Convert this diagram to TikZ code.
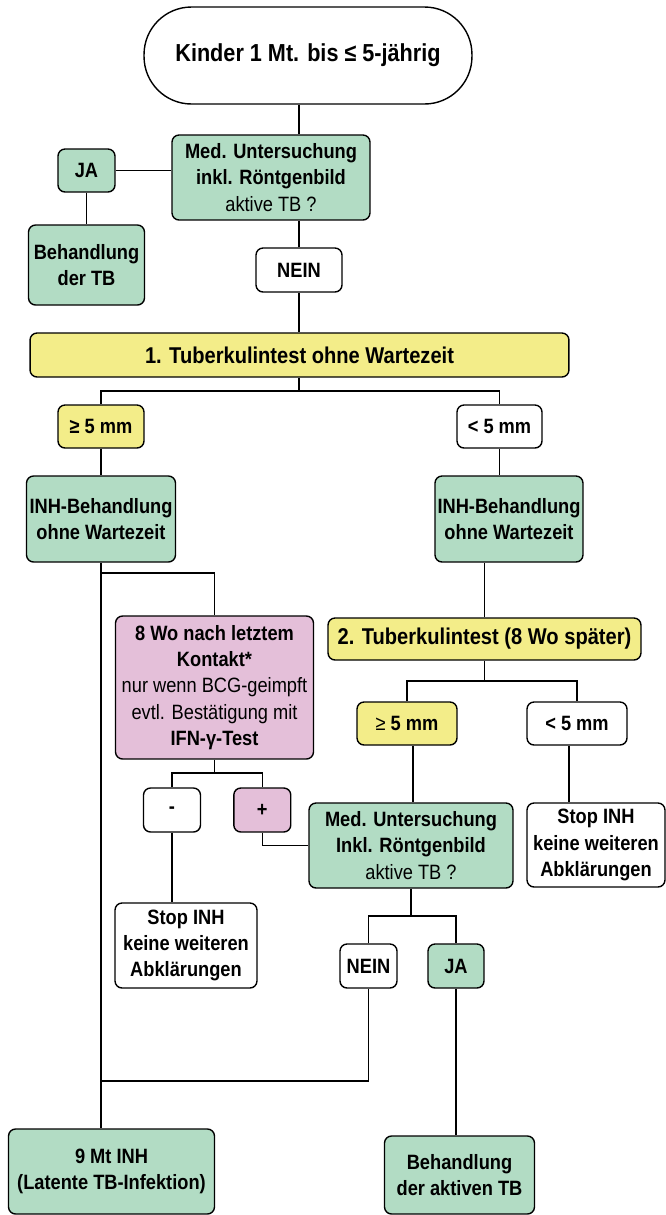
\documentclass[tikz,border=0pt]{standalone}
\usepackage{fontspec}
\setmainfont{Liberation Sans}[FakeStretch=0.88]
\usepackage{xcolor}
\definecolor{tbgreen}{RGB}{178,220,196}
\definecolor{tbyellow}{RGB}{243,237,137}
\definecolor{tbpink}{RGB}{228,191,217}

\begin{document}
\begin{tikzpicture}[
            x = 0.02cm, y = -0.02cm, % one unit = one pixel, y runs down
            box/.style = {draw=black, line width=0.8pt, rounded corners=4pt,
                          align=center, inner sep=1pt,
                          font=\bfseries\fontsize{11.8}{15}\selectfont}, % all boxes
            greenbox/.style = {box, fill=tbgreen},
            yellowbox/.style = {box, fill=tbyellow},
            pinkbox/.style = {box, fill=tbpink},
            whitebox/.style = {box, fill=white},
            line width = 0.7pt % connector lines
        ]
\useasboundingbox (0,0) rectangle (666,1215);

% top part
\node[whitebox, rounded corners=27pt, minimum width=6.56cm, minimum height=1.94cm, font=\bfseries\fontsize{14}{17}\selectfont] (start) at (308,55.5) {Kinder 1 Mt. bis ≤ 5-jährig};
\node[greenbox, minimum width=3.96cm, minimum height=1.7cm] (med1) at (271,177.5) {Med. Untersuchung\\inkl. Röntgenbild\\{\mdseries aktive TB ?}};
\node[greenbox, minimum width=1.14cm, minimum height=0.86cm] (ja1) at (86.5,170.5) {JA};
\node[greenbox, minimum width=2.32cm, minimum height=1.6cm] (beh1) at (86.5,265) {Behandlung\\der TB};
\node[whitebox, minimum width=1.72cm, minimum height=0.88cm] (nein1) at (299,270) {NEIN};
\node[yellowbox, minimum width=10.78cm, minimum height=0.88cm, font=\bfseries\fontsize{13}{15}\selectfont] (tt1) at (299.5,355) {1. Tuberkulintest ohne Wartezeit};

% first test
\node[yellowbox, minimum width=1.72cm, minimum height=0.86cm] (ge1) at (101,426.5) {≥ 5 mm};
\node[whitebox, minimum width=1.7cm, minimum height=0.86cm] (lt1) at (499.5,426.5) {< 5 mm};
\node[greenbox, minimum width=2.98cm, minimum height=1.72cm] (inh1) at (101,519) {INH-Behandlung\\ohne Wartezeit};
\node[greenbox, minimum width=2.96cm, minimum height=1.72cm] (inh2) at (509,519) {INH-Behandlung\\ohne Wartezeit};

% left branch
\node[pinkbox, minimum width=3.96cm, minimum height=2.86cm] (kontakt) at (214.5,687.5) {8 Wo nach letztem\\Kontakt*\\{\mdseries nur wenn BCG-geimpft}\\{\mdseries evtl. Bestätigung mit}\\IFN-γ-Test};
\node[whitebox, minimum width=1.14cm, minimum height=0.88cm] (minus) at (172,810) {-};
\node[pinkbox, minimum width=1.14cm, minimum height=0.88cm] (plus) at (262.3,810) {+};
\node[whitebox, minimum width=2.84cm, minimum height=1.7cm] (stopL) at (186,945.5) {Stop INH\\keine weiteren\\Abklärungen};

% right branch
\node[yellowbox, minimum width=6.26cm, minimum height=0.84cm, font=\bfseries\fontsize{13}{15}\selectfont] (tt2) at (484.5,639) {2. Tuberkulintest (8 Wo später)};
\node[yellowbox, minimum width=2cm, minimum height=0.86cm] (ge2) at (407,723.5) {{\mdseries ≥} 5 mm};
\node[whitebox, minimum width=2cm, minimum height=0.86cm] (lt2) at (577,723.5) {< 5 mm};
\node[greenbox, minimum width=4.08cm, minimum height=1.7cm] (med2) at (411,845.5) {Med. Untersuchung\\Inkl. Röntgenbild\\{\mdseries aktive TB ?}};
\node[whitebox, minimum width=2.76cm, minimum height=1.68cm] (stopR) at (596,845) {Stop INH\\keine weiteren\\Abklärungen};
\node[whitebox, minimum width=1.14cm, minimum height=0.88cm] (nein2) at (368.5,966) {NEIN};
\node[greenbox, minimum width=1.12cm, minimum height=0.88cm] (ja2) at (456,966) {JA};

% results
\node[greenbox, minimum width=4.12cm, minimum height=1.7cm] (inh9) at (111.5,1171.5) {9 Mt INH\\(Latente TB-Infektion)};
\node[greenbox, minimum width=3cm, minimum height=1.56cm] (behR) at (459.5,1175) {Behandlung\\der aktiven TB};

% connectors
\coordinate (split1) at (299,391);
\coordinate (split2) at (484.5,681);
\coordinate (split3) at (101,573);
\coordinate (split4) at (214.5,773);
\coordinate (split5) at (411,916);
\coordinate (join1) at (101,1081);

\draw (nein1 |- start.south) -- (nein1 |- med1.north);
\draw (nein1.north) -- (nein1 |- med1.south);
\draw (nein1.south) -- (nein1 |- tt1.north);
\draw (ja1.east) -- (ja1.east -| med1.west);
\draw (ja1.south) -- (ja1.south |- beh1.north);
\draw (nein1 |- tt1.south) -- (split1);
\draw (ge1.north) |- (split1) -| (lt1.north);
\draw (ge1.south) -- (inh1.north);
\draw (lt1.south) -- (lt1.south |- inh2.north);
\draw (inh1.south) -- (inh1.south |- inh9.north);
\draw (split3) -| (kontakt.north);
\draw (kontakt.south) -- (split4);
\draw (minus.north) |- (split4) -| (plus.north);
\draw (minus.south) -- (minus.south |- stopL.north);
\draw (plus.south) |- (med2.west);
\draw (tt2.north) -- (tt2.north |- inh2.south);
\draw (tt2.south) -- (split2);
\draw (ge2.north) |- (split2) -| (lt2.north);
\draw ([xshift=0.12cm]ge2.south) -- ([xshift=0.12cm]ge2.south |- med2.north);
\draw ([xshift=-0.16cm]lt2.south) -- ([xshift=-0.16cm]lt2.south |- stopR.north);
\draw (med2.south) -- (split5);
\draw (nein2.north) |- (split5) -| (ja2.north);
\draw (nein2.south) |- (join1);
\draw (ja2.south) -- (ja2.south |- behR.north);
\end{tikzpicture}
\end{document}
